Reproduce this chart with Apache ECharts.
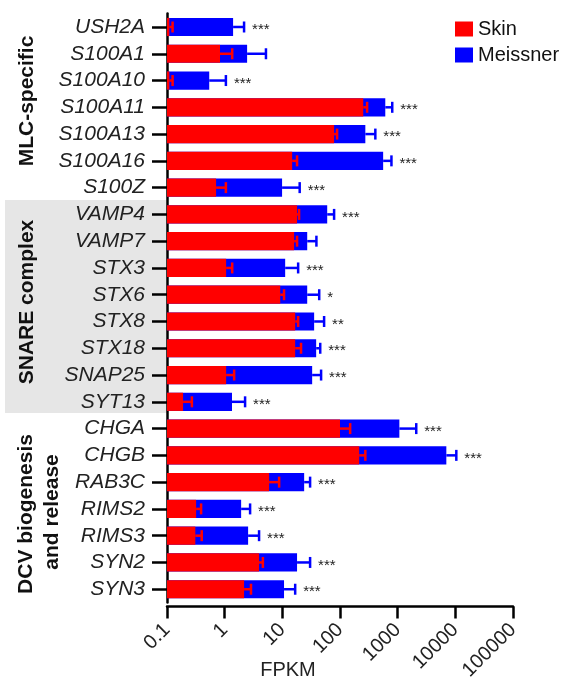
<!DOCTYPE html>
<html>
<head>
<meta charset="utf-8">
<script src="https://cdn.jsdelivr.net/npm/echarts@6/dist/echarts.min.js"></script>
<style>
  html, body { margin: 0; padding: 0; background: #fff; }
  #main { width: 564px; height: 683px; }
</style>
</head>
<body>
<div id="main"></div>
<script>
// genes, top to bottom
var genes = ['USH2A', 'S100A1', 'S100A10', 'S100A11', 'S100A13', 'S100A16', 'S100Z',
  'VAMP4', 'VAMP7', 'STX3', 'STX6', 'STX8', 'STX18', 'SNAP25', 'SYT13',
  'CHGA', 'CHGB', 'RAB3C', 'RIMS2', 'RIMS3', 'SYN2', 'SYN3'];
// mean FPKM and top of the error bar (mean + SEM)
var skinMean = [0.11, 0.83, 0.11, 253, 79, 14.8, 0.71, 18, 16, 1.06, 9.2, 16.7, 16.7, 1.06, 0.19, 100, 215, 5.9, 0.32, 0.31, 3.95, 2.17];
var skinErr = [0.125, 1.35, 0.125, 295, 89, 18, 1.05, 19.5, 18, 1.35, 10.7, 18.8, 21.1, 1.46, 0.27, 150, 275, 8.8, 0.39, 0.40, 4.6, 2.86];
var meissnerMean = [1.4, 2.45, 0.54, 610, 275, 560, 9.9, 60, 27, 11.2, 27, 35.6, 38.6, 32.9, 1.34, 1070, 6980, 23.9, 1.93, 2.55, 18, 10.7];
var meissnerErr = [2.17, 5.2, 1.05, 805, 410, 780, 20, 79, 39, 18.8, 43.6, 53, 45.4, 47, 2.26, 2100, 10400, 30.3, 2.76, 3.95, 30.3, 16.7];
var sig = ['***', '', '***', '***', '***', '***', '***', '***', '', '***', '*', '**', '***', '***', '***',
  '***', '***', '***', '***', '***', '***', '***'];
var xTickLabels = ['0.1', '1', '10', '100', '1000', '10000', '100000'];

var FONT = '"Liberation Sans", Arial, Helvetica, sans-serif';
var RED = '#ff0000', BLUE = '#0000ff';
var AXIS_MIN = 0.1;

function pairs(vals) {
  return vals.map(function (v, i) { return [i, v]; });
}
function triples(a, b) {
  return a.map(function (v, i) { return [i, v, b[i]]; });
}

// bars start at the axis minimum (log axis)
function renderBar(params, api) {
  var start = api.coord([AXIS_MIN, api.value(0)]);
  var end = api.coord([api.value(1), api.value(0)]);
  var h = api.size([1, 1])[1] * 0.68;
  return {
    type: 'rect',
    shape: { x: start[0], y: start[1] - h / 2, width: end[0] - start[0], height: h },
    style: { fill: api.visual('color') }
  };
}

// one-sided error bar with a cap
function renderErr(params, api) {
  var a = api.coord([api.value(1), api.value(0)]);
  var b = api.coord([api.value(2), api.value(0)]);
  var color = api.visual('color');
  var style = { stroke: color, lineWidth: 2.5 };
  return {
    type: 'group',
    children: [
      { type: 'line', shape: { x1: a[0], y1: a[1], x2: b[0], y2: b[1] }, style: style },
      { type: 'line', shape: { x1: b[0], y1: b[1] - 5.5, x2: b[0], y2: b[1] + 5.5 }, style: style }
    ]
  };
}

function renderStars(params, api) {
  var p = api.coord([api.value(1), api.value(0)]);
  return {
    type: 'text',
    x: p[0] + 8,
    y: p[1] + 3,
    style: {
      text: sig[params.dataIndex],
      font: '15px ' + FONT,
      fill: '#222',
      textAlign: 'left',
      textVerticalAlign: 'middle'
    }
  };
}

var chart = echarts.init(document.getElementById('main'));
var option = {
  animation: false,
  grid: { left: 167, right: 51, top: 13.6, bottom: 79.6, containLabel: false },
  legend: {
    orient: 'vertical',
    left: 450,
    top: 14,
    itemWidth: 18,
    itemHeight: 15,
    itemGap: 6,
    textStyle: { fontFamily: FONT, fontSize: 20, color: '#111' },
    data: [{ name: 'Skin', icon: 'rect' }, { name: 'Meissner', icon: 'rect' }]
  },
  xAxis: {
    type: 'log',
    logBase: 10,
    min: 0.1,
    max: 100000,
    offset: 4,
    splitLine: { show: false },
    minorTick: { show: false },
    axisLine: { show: true, lineStyle: { color: '#000', width: 2.5 } },
    axisTick: { show: true, inside: false, length: 12, lineStyle: { color: '#000', width: 2.5 } },
    axisLabel: {
      rotate: 45,
      margin: 20,
      fontFamily: FONT,
      fontSize: 20,
      color: '#222',
      formatter: function (v, i) { return xTickLabels[i]; }
    }
  },
  yAxis: {
    type: 'category',
    inverse: true,
    data: genes,
    axisLine: { show: true, lineStyle: { color: '#000', width: 2.5 } },
    axisTick: { show: true, inside: false, interval: 0, length: 15, alignWithLabel: true, lineStyle: { color: '#000', width: 2.5 } },
    axisLabel: {
      interval: 0,
      margin: 22,
      fontFamily: FONT,
      fontStyle: 'italic',
      fontSize: 21,
      color: '#222'
    }
  },
  graphic: [
    {
      type: 'rect', z: -10,
      shape: { x: 5, y: 200, width: 162, height: 213 },
      style: { fill: '#e6e6e6' }
    },
    {
      type: 'text', x: 27, y: 101, rotation: Math.PI / 2,
      style: { text: 'MLC-specific', font: 'bold 21px ' + FONT, fill: '#111', textAlign: 'center', textVerticalAlign: 'middle' }
    },
    {
      type: 'text', x: 27, y: 302, rotation: Math.PI / 2,
      style: { text: 'SNARE complex', font: 'bold 21px ' + FONT, fill: '#111', textAlign: 'center', textVerticalAlign: 'middle' }
    },
    {
      type: 'text', x: 26, y: 514, rotation: Math.PI / 2,
      style: { text: 'DCV biogenesis', font: 'bold 21px ' + FONT, fill: '#111', textAlign: 'center', textVerticalAlign: 'middle' }
    },
    {
      type: 'text', x: 52, y: 512, rotation: Math.PI / 2,
      style: { text: 'and release', font: 'bold 21px ' + FONT, fill: '#111', textAlign: 'center', textVerticalAlign: 'middle' }
    },
    {
      type: 'text', x: 288, y: 670,
      style: { text: 'FPKM', font: '20px ' + FONT, fill: '#222', textAlign: 'center', textVerticalAlign: 'middle' }
    }
  ],
  series: [
    {
      name: 'Meissner', type: 'custom', renderItem: renderBar,
      itemStyle: { color: BLUE }, encode: { x: 1, y: 0 }, data: pairs(meissnerMean), z: 2
    },
    {
      name: 'Skin', type: 'custom', renderItem: renderBar,
      itemStyle: { color: RED }, encode: { x: 1, y: 0 }, data: pairs(skinMean), z: 3
    },
    {
      name: 'Meissner', type: 'custom', renderItem: renderErr,
      itemStyle: { color: BLUE }, encode: { x: [1, 2], y: 0 }, data: triples(meissnerMean, meissnerErr), z: 4
    },
    {
      name: 'Skin', type: 'custom', renderItem: renderErr,
      itemStyle: { color: RED }, encode: { x: [1, 2], y: 0 }, data: triples(skinMean, skinErr), z: 5
    },
    {
      name: 'stars', type: 'custom', renderItem: renderStars,
      encode: { x: 1, y: 0 }, data: pairs(meissnerErr), z: 6
    }
  ]
};
chart.setOption(option);
</script>
</body>
</html>
